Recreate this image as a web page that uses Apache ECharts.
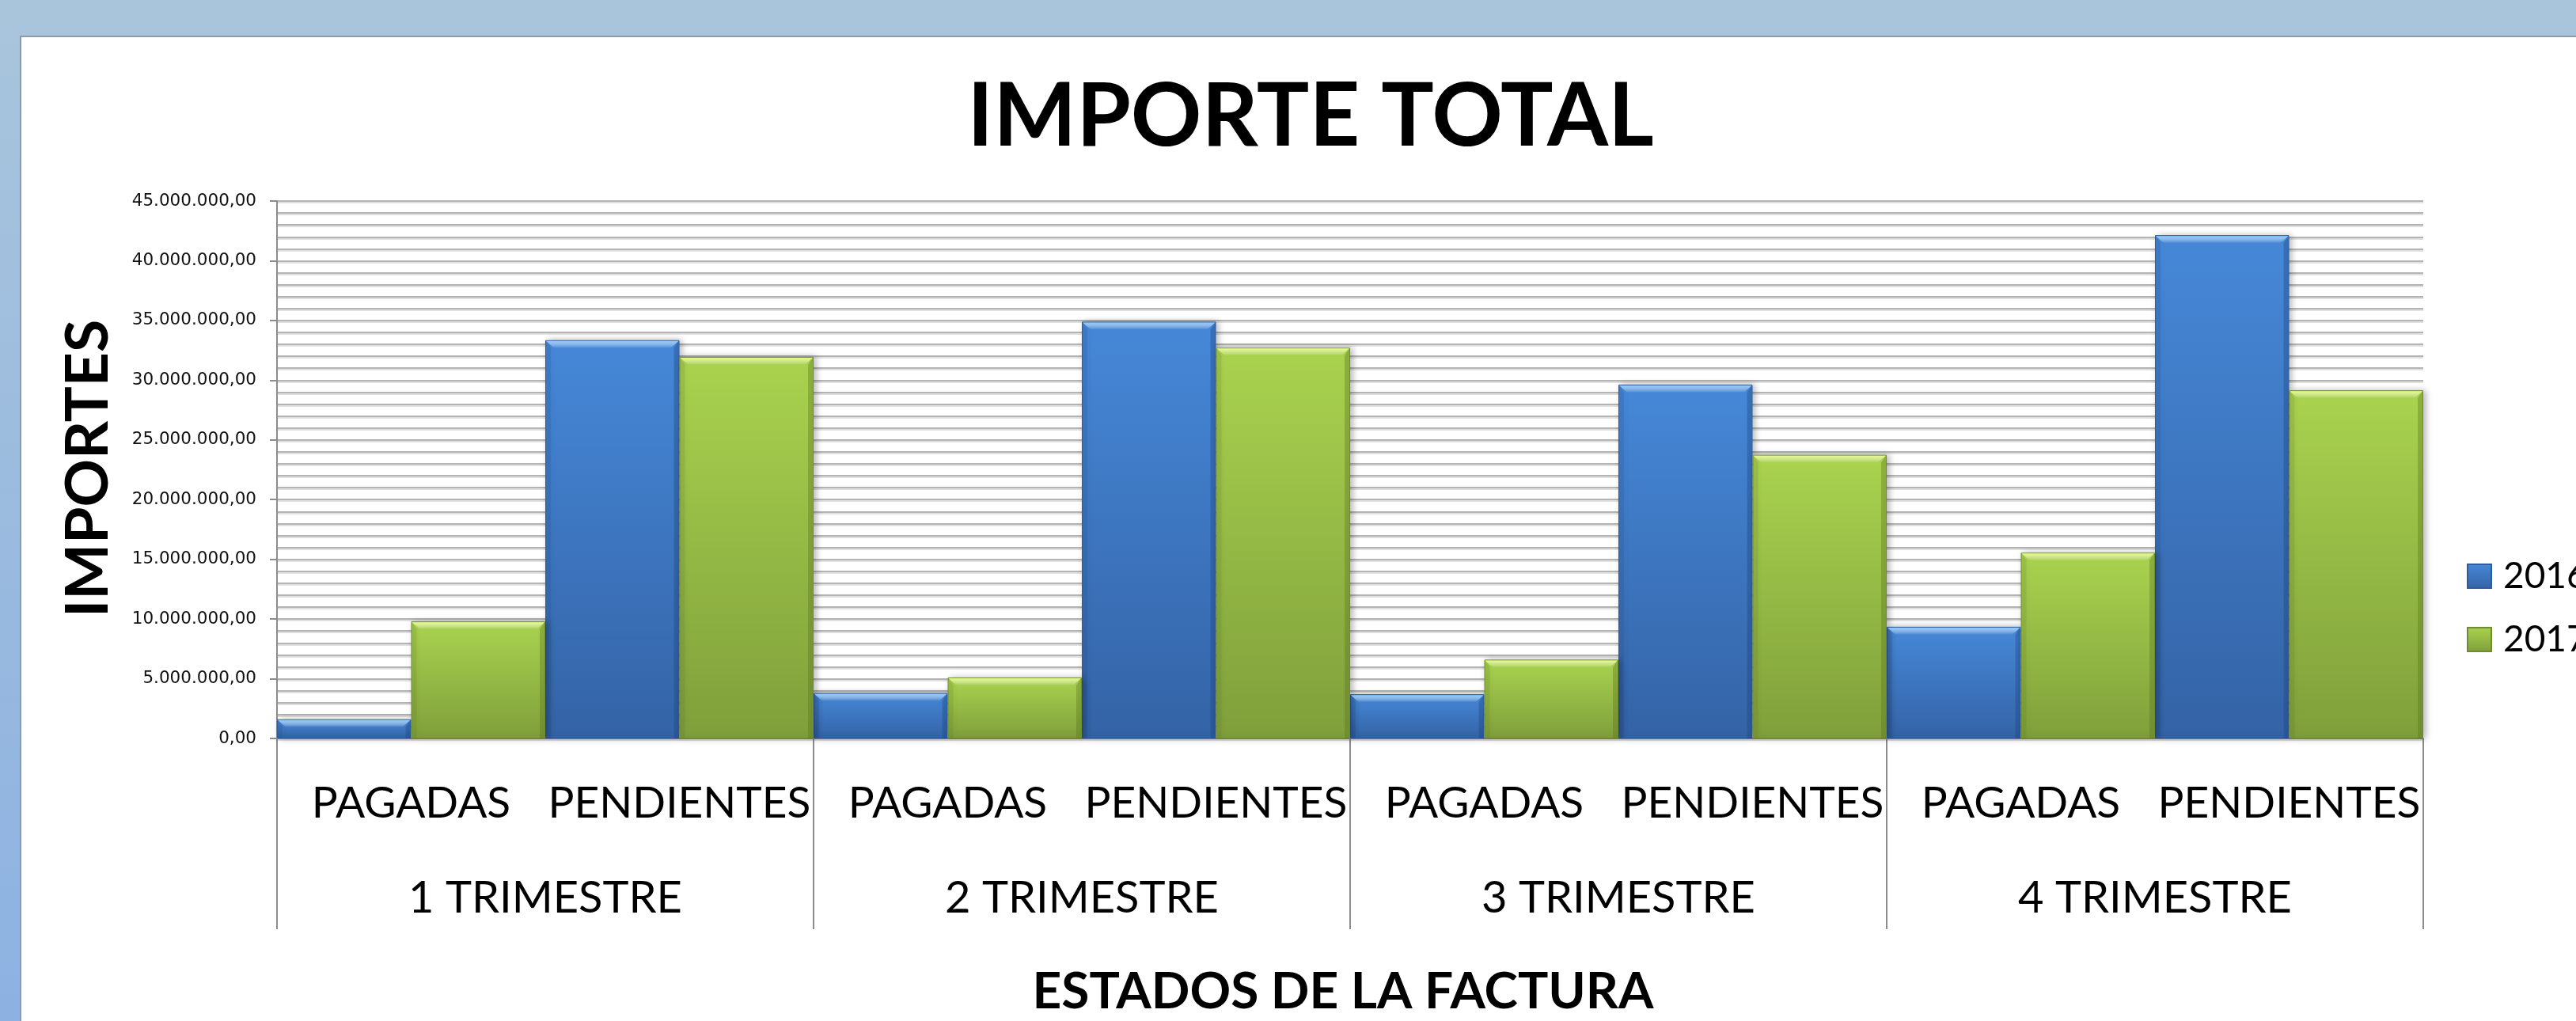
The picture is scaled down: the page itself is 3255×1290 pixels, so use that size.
<!DOCTYPE html>
<html>
<head>
<meta charset="utf-8">
<script src="https://cdn.jsdelivr.net/npm/echarts@6/dist/echarts.min.js"></script>
<style>
  html, body { margin: 0; padding: 0; width: 3255px; height: 1290px; overflow: hidden; }
  body { background: linear-gradient(to bottom, #a9c5dc 0%, #98b9df 60%, #8db2e2 100%); position: relative; }
  .panel { position: absolute; left: 25px; top: 45px; width: 3300px; height: 1300px;
           background: #fff; border: 2px solid #8e9aa8; box-sizing: border-box; }
  #chart { position: absolute; left: 0; top: 0; width: 3255px; height: 1290px; }
</style>
</head>
<body>
<div class="panel"></div>
<div id="chart"></div>
<script>
var estados = ['PAGADAS', 'PENDIENTES', 'PAGADAS', 'PENDIENTES', 'PAGADAS', 'PENDIENTES', 'PAGADAS', 'PENDIENTES'];
var trimestres = ['1 TRIMESTRE', '2 TRIMESTRE', '3 TRIMESTRE', '4 TRIMESTRE'];
var years = ['2016', '2017'];
var importes2016 = [1600000, 33350000, 3800000, 34900000, 3700000, 29630000, 9350000, 42140000];
var importes2017 = [9800000, 31950000, 5100000, 32720000, 6600000, 23750000, 15550000, 29150000];

function fmt(v) {
    var s = Math.round(v).toString();
    var out = '';
    while (s.length > 3) {
        out = '.' + s.slice(-3) + out;
        s = s.slice(0, -3);
    }
    return s + out + ',00';
}

var chart = echarts.init(document.getElementById('chart'), null, { renderer: 'canvas' });

var gridLine = { color: '#b4b4b4', width: 2, shadowColor: '#e0e0e0', shadowOffsetY: 2, shadowBlur: 0 };

function barStyle(top, bottom, border) {
    return {
        color: new echarts.graphic.LinearGradient(0, 0, 0, 1, [
            { offset: 0, color: top },
            { offset: 1, color: bottom }
        ]),
        borderColor: border,
        borderWidth: 1,
        shadowBlur: 8,
        shadowColor: 'rgba(0,0,0,0.28)',
        shadowOffsetX: 3
    };
}

// bevel drawn on top of each bar (top light band, darker right edge)
function bevel(side, light, dark) {
    return function (params, api) {
        var top = api.coord([api.value(0), api.value(1)]);
        var base = api.coord([api.value(0), 0]);
        var bw = api.size([1, 0])[0] / 2;
        var x0 = side === 0 ? top[0] - bw : top[0];
        var x1 = x0 + bw;
        var y0 = top[1];
        var h = base[1] - y0;
        var b = Math.min(10, h / 2);
        var s = Math.min(6, h / 2);
        return {
            type: 'group',
            children: [
                {
                    type: 'polygon',
                    shape: { points: [[x0 + 1, y0 + 1], [x1 - 1, y0 + 1], [x1 - 1 - b, y0 + b], [x0 + 1 + b, y0 + b]] },
                    style: { fill: new echarts.graphic.LinearGradient(0, 0, 0, 1, [
                        { offset: 0, color: light },
                        { offset: 1, color: 'rgba(255,255,255,0)' }
                    ]) }
                },
                {
                    type: 'polygon',
                    shape: { points: [[x1 - 1, y0 + 1], [x1 - 1, base[1]], [x1 - 1 - s, base[1]], [x1 - 1 - s, y0 + b]] },
                    style: { fill: dark }
                },
                {
                    type: 'polygon',
                    shape: { points: [[x0 + 1, y0 + 1], [x0 + 1, base[1]], [x0 + 1 + s, base[1]], [x0 + 1 + s, y0 + b]] },
                    style: { fill: dark, opacity: 0.45 }
                }
            ]
        };
    };
}

function pairs(values) {
    return values.map(function (v, i) { return [i, v]; });
}

var option = {
    animation: false,
    textStyle: { fontFamily: 'Lato' },
    grid: { left: 350, right: 193, top: 254, bottom: 357, containLabel: false },
    legend: {
        orient: 'vertical',
        left: 3112,
        top: 700,
        itemWidth: 30,
        itemHeight: 30,
        itemGap: 34,
        icon: 'rect',
        textStyle: { fontFamily: 'Lato', fontSize: 46, color: '#000', padding: [0, 0, 0, 10], lineHeight: 30 },
        data: years
    },
    xAxis: [
        {
            type: 'category',
            data: estados,
            position: 'bottom',
            axisLine: { show: true, lineStyle: { color: '#8c8c8c', width: 2 } },
            axisTick: { show: false },
            axisLabel: { interval: 0, fontFamily: 'Lato', fontSize: 55, color: '#000', margin: 82, verticalAlign: 'middle' },
            splitLine: { show: false }
        },
        {
            type: 'category',
            data: trimestres,
            position: 'bottom',
            axisLine: { show: false },
            axisTick: { show: true, length: 241, lineStyle: { color: '#8c8c8c', width: 2 } },
            axisLabel: { interval: 0, fontFamily: 'Lato', fontSize: 56, color: '#000', margin: 202, verticalAlign: 'middle' },
            splitLine: { show: false }
        }
    ],
    yAxis: {
        type: 'value',
        min: 0,
        max: 45000000,
        interval: 5000000,
        axisLine: { show: true, lineStyle: { color: '#8c8c8c', width: 2 } },
        axisTick: { show: true, length: 9, lineStyle: { color: '#8c8c8c', width: 2 } },
        axisLabel: { fontFamily: 'DejaVu Sans', fontSize: 21.5, color: '#111', margin: 26, formatter: fmt },
        splitLine: { show: true, lineStyle: gridLine },
        minorTick: { show: false, splitNumber: 5 },
        minorSplitLine: { show: true, lineStyle: gridLine }
    },
    series: [
        {
            name: years[0],
            type: 'bar',
            xAxisIndex: 0,
            data: importes2016,
            barGap: '0%',
            barCategoryGap: '0%',
            itemStyle: barStyle('#4688d8', '#3463a6', '#2f5c9c')
        },
        {
            name: years[1],
            type: 'bar',
            xAxisIndex: 0,
            data: importes2017,
            barGap: '0%',
            barCategoryGap: '0%',
            itemStyle: barStyle('#aad34f', '#7f9f3b', '#6f8d30')
        },
        {
            name: 'bisel2016',
            type: 'custom',
            xAxisIndex: 0,
            z: 5,
            silent: true,
            data: pairs(importes2016),
            renderItem: bevel(0, '#8fc8fa', 'rgba(30,70,130,0.35)')
        },
        {
            name: 'bisel2017',
            type: 'custom',
            xAxisIndex: 0,
            z: 5,
            silent: true,
            data: pairs(importes2017),
            renderItem: bevel(1, '#e6fa8a', 'rgba(90,115,30,0.35)')
        }
    ],
    graphic: [
        {
            type: 'text', x: 1656, y: 148,
            style: { text: 'IMPORTE TOTAL', fill: '#000', fontFamily: 'Lato', fontWeight: 'bold', fontSize: 111,
                     align: 'center', verticalAlign: 'middle', textAlign: 'center', textVerticalAlign: 'middle' }
        },
        {
            type: 'text', x: 112, y: 592, rotation: Math.PI / 2,
            style: { text: 'IMPORTES', fill: '#000', fontFamily: 'Lato', fontWeight: 'bold', fontSize: 75,
                     align: 'center', verticalAlign: 'middle', textAlign: 'center', textVerticalAlign: 'middle' }
        },
        {
            type: 'text', x: 1697, y: 1253,
            style: { text: 'ESTADOS DE LA FACTURA', fill: '#000', fontFamily: 'Lato', fontWeight: 'bold', fontSize: 64,
                     align: 'center', verticalAlign: 'middle', textAlign: 'center', textVerticalAlign: 'middle' }
        }
    ]
};

chart.setOption(option);
</script>
</body>
</html>
